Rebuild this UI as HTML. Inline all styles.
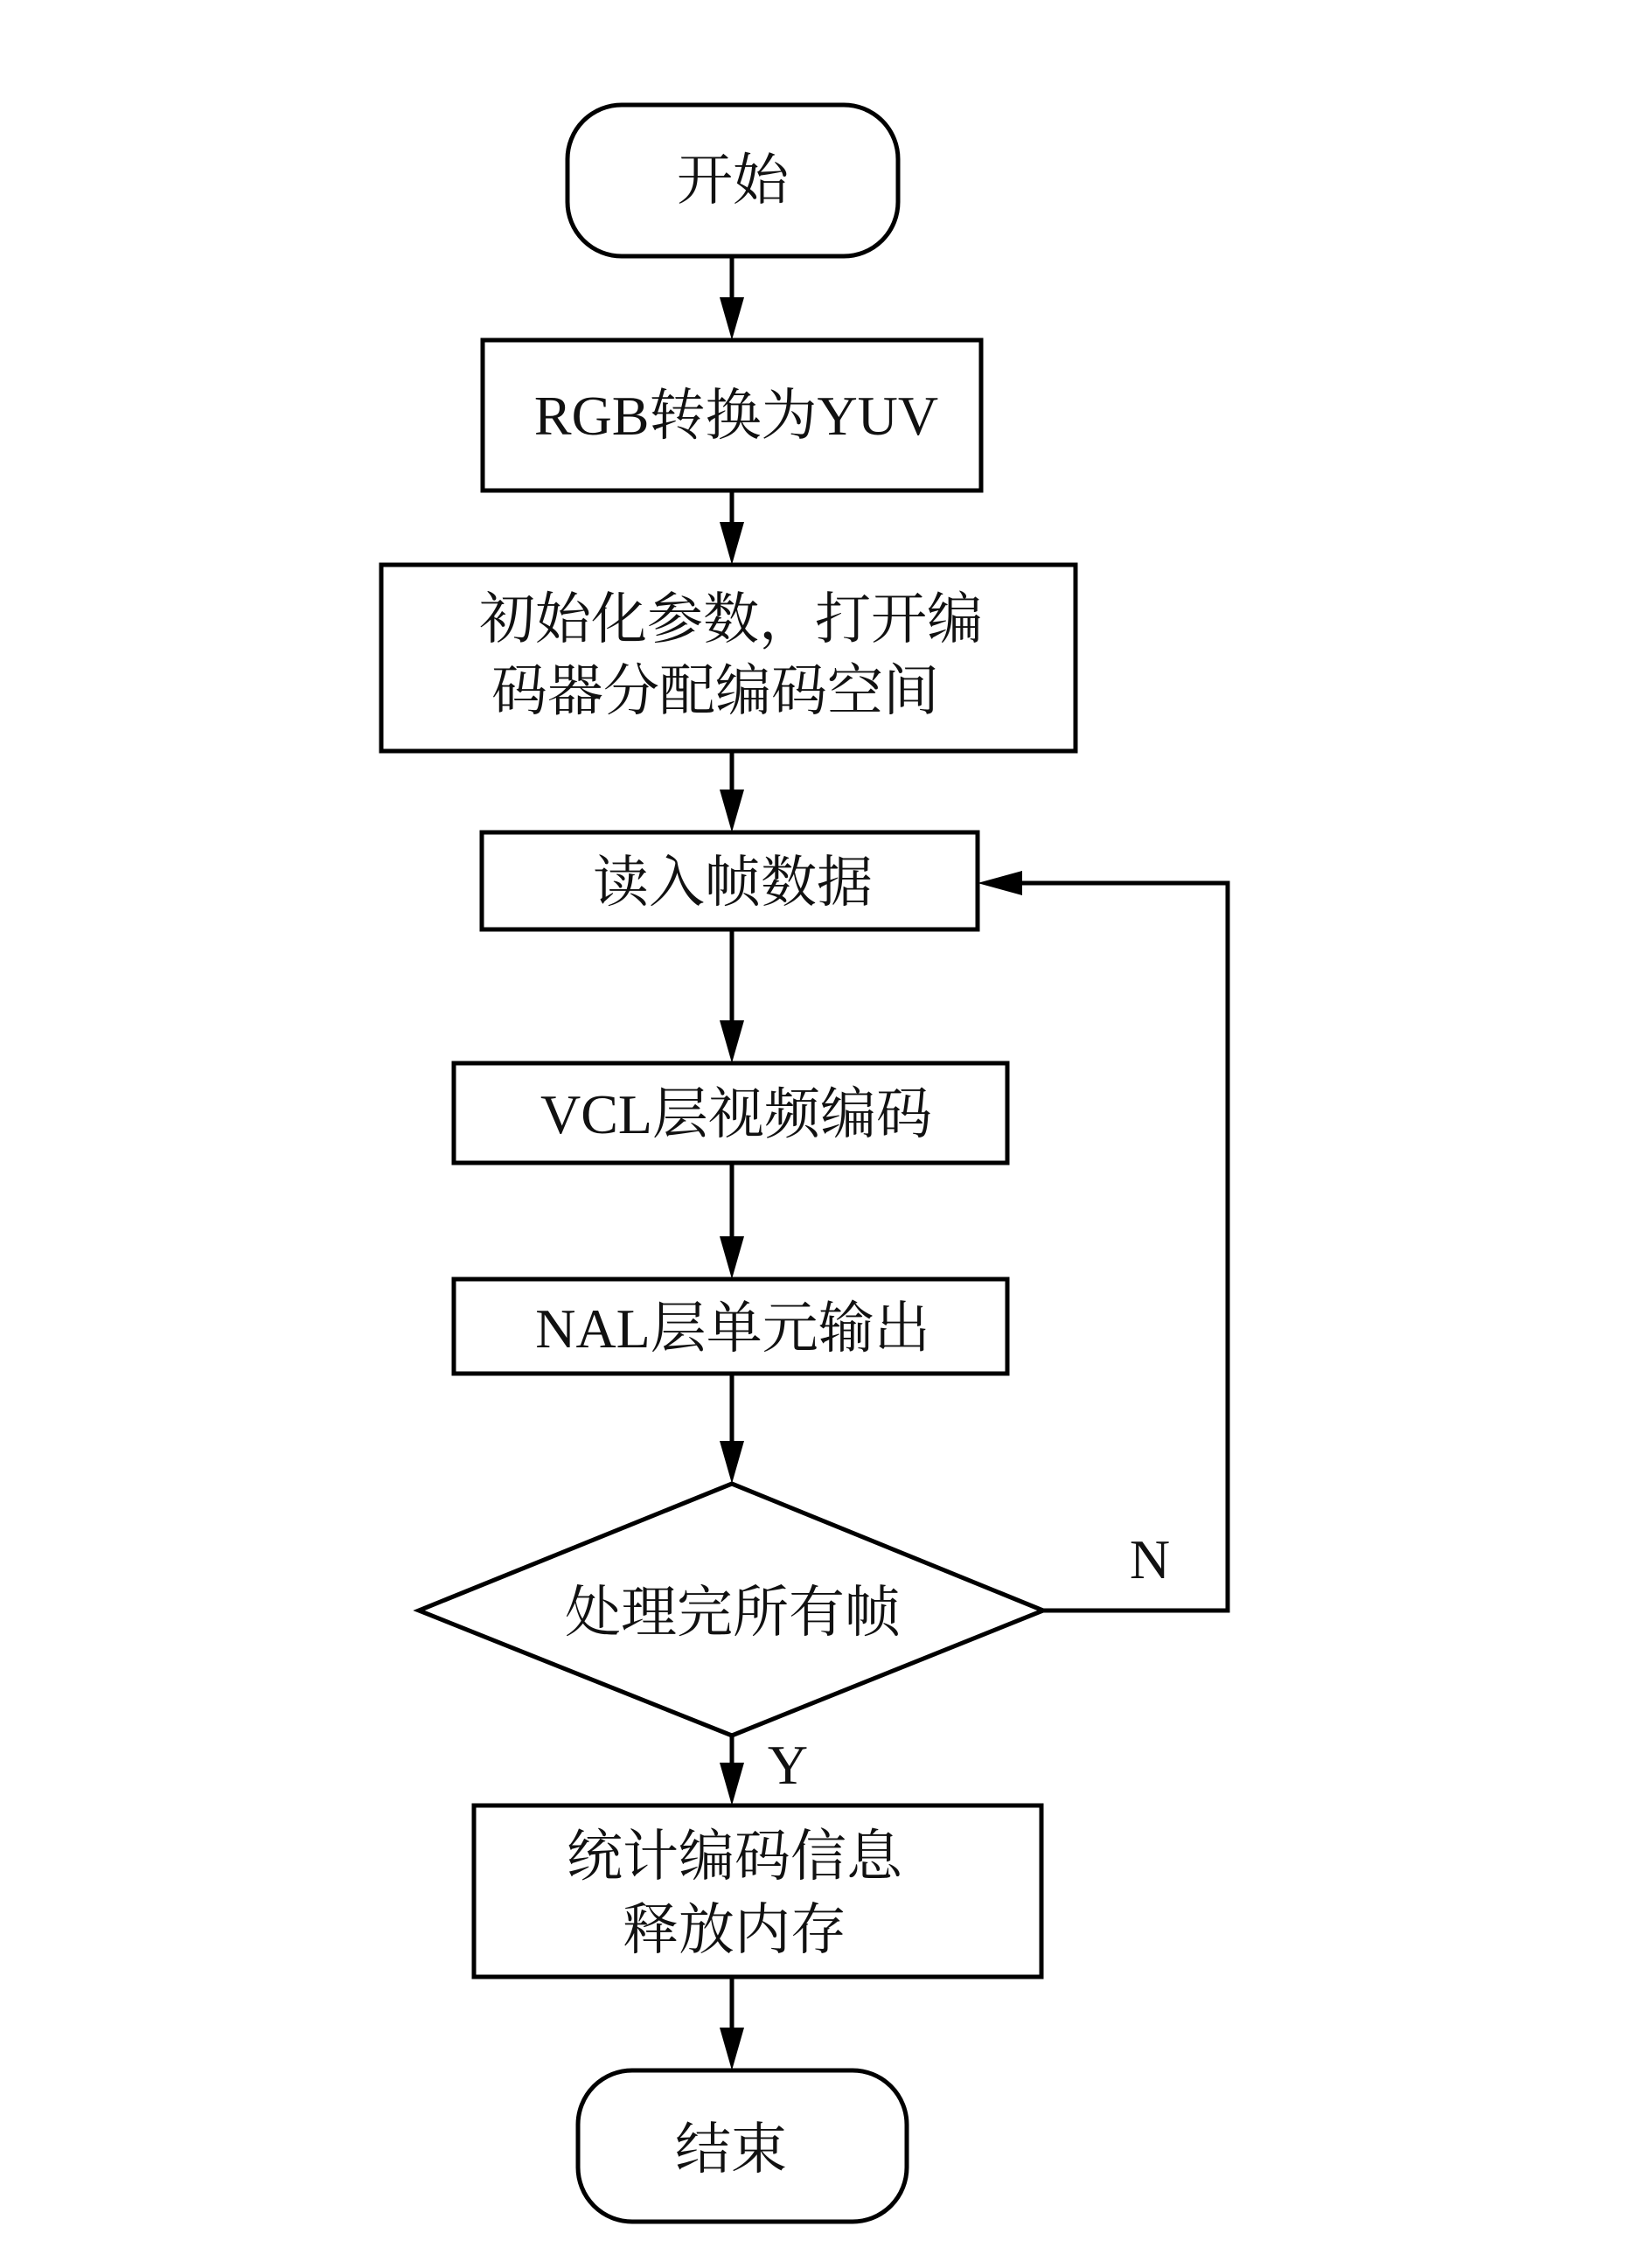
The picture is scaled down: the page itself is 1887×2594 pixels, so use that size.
<!DOCTYPE html>
<html><head><meta charset="utf-8"><style>
html,body{margin:0;padding:0;background:#fff;}
svg{display:block;}
text{font-family:"Liberation Serif","Noto Serif CJK SC",serif;font-size:64px;fill:#111;text-anchor:middle;}
</style></head><body>
<svg width="1887" height="2594" viewBox="0 0 1887 2594" xmlns="http://www.w3.org/2000/svg">
<defs>
<marker id="a" markerWidth="10" markerHeight="10" refX="10" refY="5" orient="auto" markerUnits="userSpaceOnUse" viewBox="0 0 10 10" style="overflow:visible">
</marker>
</defs>
<g fill="none" stroke="#000" stroke-width="5">
<rect x="649" y="120" width="378" height="173" rx="62"/>
<rect x="552" y="389" width="570" height="172"/>
<rect x="436" y="646" width="794" height="213"/>
<rect x="551" y="952" width="567" height="111"/>
<rect x="519" y="1216" width="633" height="114"/>
<rect x="519" y="1463" width="633" height="108"/>
<polygon points="837,1697 1193,1842 837,1985 479,1842"/>
<rect x="542" y="2065" width="649" height="196"/>
<rect x="661" y="2368" width="376" height="173" rx="62"/>
<line x1="837" y1="293" x2="837" y2="345"/>
<line x1="837" y1="561" x2="837" y2="600"/>
<line x1="837" y1="859" x2="837" y2="905"/>
<line x1="837" y1="1063" x2="837" y2="1170"/>
<line x1="837" y1="1330" x2="837" y2="1420"/>
<line x1="837" y1="1571" x2="837" y2="1650"/>
<line x1="837" y1="1985" x2="837" y2="2020"/>
<line x1="837" y1="2261" x2="837" y2="2320"/>
<polyline points="1193,1842 1404,1842 1404,1010 1160,1010"/>
</g>
<g fill="#000">
<polygon points="823,340 851,340 837,389"/>
<polygon points="823,597 851,597 837,646"/>
<polygon points="823,903 851,903 837,952"/>
<polygon points="823,1167 851,1167 837,1216"/>
<polygon points="823,1414 851,1414 837,1463"/>
<polygon points="823,1648 851,1648 837,1697"/>
<polygon points="823,2016 851,2016 837,2065"/>
<polygon points="823,2319 851,2319 837,2368"/>
<polygon points="1118,1010 1169,996 1169,1024"/>
</g>
<text x="838" y="228">开始</text>
<text x="842" y="497">RGB转换为YUV</text>
<text x="836" y="730">初始化参数，打开编</text>
<text x="818" y="812">码器分配编码空间</text>
<text x="838" y="1031">读入帧数据</text>
<text x="842" y="1296">VCL层视频编码</text>
<text x="838" y="1541">NAL层单元输出</text>
<text x="838" y="1866">处理完所有帧</text>
<text x="840" y="2145">统计编码信息</text>
<text x="840" y="2229">释放内存</text>
<text x="836" y="2480">结束</text>
<text x="1315" y="1805">N</text>
<text x="901" y="2040">Y</text>
</svg>
</body></html>
